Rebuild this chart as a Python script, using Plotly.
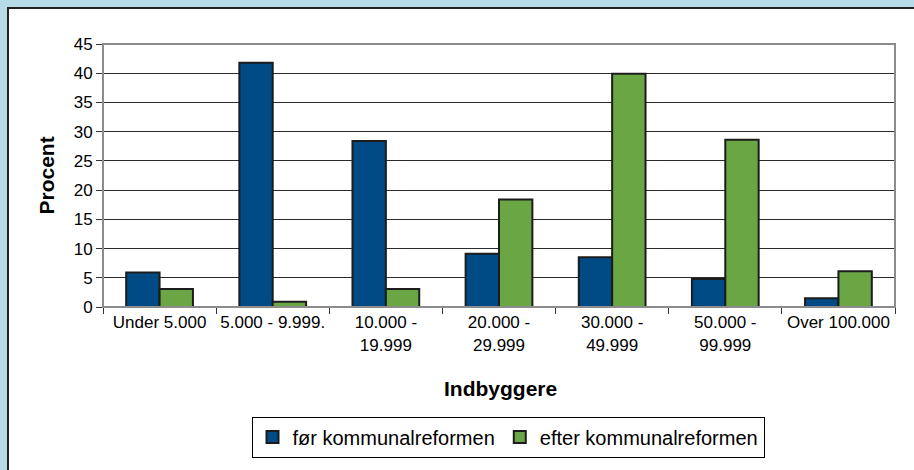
import plotly.graph_objects as go

categories = ["Under 5.000", "5.000 - 9.999.", "10.000 -<br>19.999", "20.000 -<br>29.999",
              "30.000 -<br>49.999", "50.000 -<br>99.999", "Over 100.000"]
foer = [5.9, 41.8, 28.4, 9.1, 8.5, 4.8, 1.5]
efter = [3.1, 0.9, 3.1, 18.4, 39.9, 28.6, 6.1]
series_names = ["før kommunalreformen", "efter kommunalreformen"]
y_ticks = [0, 5, 10, 15, 20, 25, 30, 35, 40, 45]

W, H = 914, 470
L, R, T, B = 103, 19, 44, 163
pw, ph = W - L - R, H - T - B

def px2x(p):
    return (p - L) / pw

def py2y(p):
    return (H - B - p) / ph

fig = go.Figure()
fig.add_trace(go.Bar(x=categories, y=foer, name=series_names[0],
                     marker=dict(color="#004a85", line=dict(color="#1c1c1c", width=2))))
fig.add_trace(go.Bar(x=categories, y=efter, name=series_names[1],
                     marker=dict(color="#6aa644", line=dict(color="#1c1c1c", width=2))))

font = "Liberation Sans, Arial, sans-serif"
fig.update_layout(
    width=W, height=H,
    margin=dict(l=L, r=R, t=T, b=B, pad=0, autoexpand=False),
    paper_bgcolor="#b7dbe7",
    plot_bgcolor="#b1b4b7",
    barmode="group", bargap=0.41, bargroupgap=0,
    font=dict(family=font, size=17, color="black"),
    showlegend=True,
    legend=dict(orientation="h", x=px2x(508), y=py2y(437), xanchor="center", yanchor="middle",
                bgcolor="white", bordercolor="black", borderwidth=1,
                font=dict(size=20, family=font), itemwidth=30, traceorder="normal"),
    xaxis=dict(type="category", showgrid=False, ticks="outside", tickson="boundaries",
               ticklen=6, tickcolor="#333", showline=True, linecolor="#333", linewidth=1,
               tickfont=dict(size=17), tickangle=0, automargin=False, fixedrange=True),
    yaxis=dict(range=[0, 45], tickvals=y_ticks, showgrid=True, gridcolor="#2b2b2b", gridwidth=1,
               ticks="outside", ticklen=6, tickcolor="#333", showline=True, linecolor="#333",
               linewidth=1, tickfont=dict(size=17), zeroline=False, automargin=False,
               fixedrange=True),
    shapes=[
        dict(type="rect", xref="paper", yref="paper", x0=px2x(8), x1=px2x(930),
             y0=py2y(490), y1=py2y(8), fillcolor="white", line=dict(color="#222", width=2),
             layer="below"),
        dict(type="rect", xref="paper", yref="paper", x0=0, x1=1, y0=0, y1=1,
             line=dict(color="#8c8c8c", width=2), layer="above"),
    ],
    annotations=[
        dict(text="<b>Procent</b>", xref="paper", yref="paper", x=px2x(46), y=0.5,
             textangle=-90, showarrow=False, font=dict(size=21, family=font),
             xanchor="center", yanchor="middle"),
        dict(text="<b>Indbyggere</b>", xref="paper", yref="paper", x=px2x(500), y=py2y(388),
             showarrow=False, font=dict(size=21, family=font), xanchor="center", yanchor="middle"),
    ],
)

fig.write_html("out.html", config={"displayModeBar": False},
               post_script="document.body.style.margin='0';")
